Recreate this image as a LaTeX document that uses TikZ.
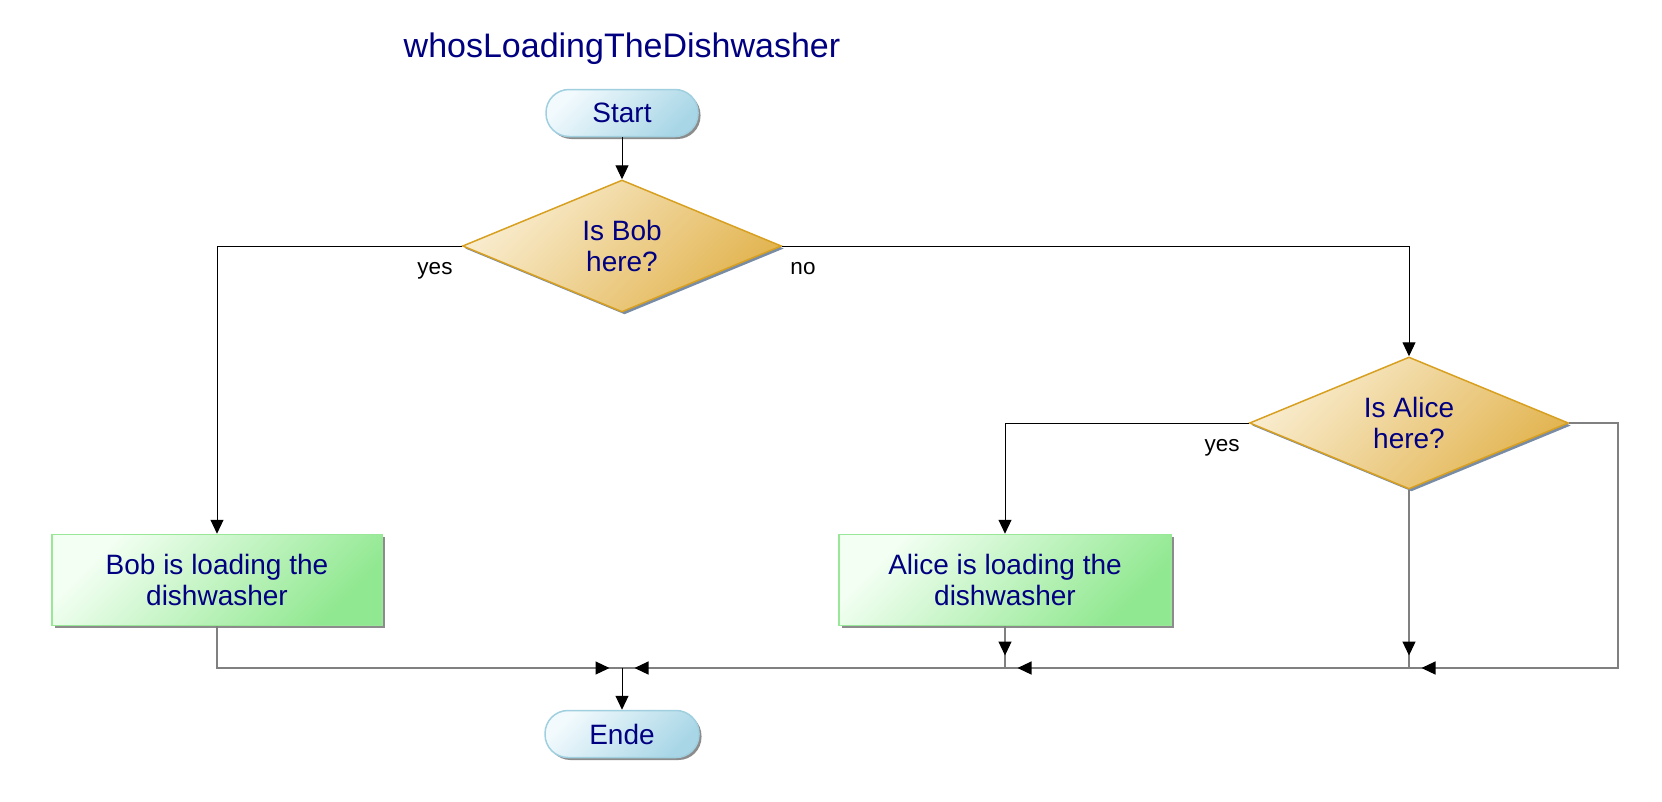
\documentclass[tikz,border=0pt]{standalone}
\usepackage{fontspec}
\setmainfont{Liberation Sans}
\usetikzlibrary{shapes.geometric,arrows.meta,shadows,decorations.markings}
\definecolor{navy}{RGB}{0,0,128}
\definecolor{blueA}{RGB}{242,250,253}
\definecolor{blueB}{RGB}{168,214,230}
\definecolor{blueE}{RGB}{160,208,224}
\definecolor{goldA}{RGB}{249,237,208}
\definecolor{goldB}{RGB}{226,180,80}
\definecolor{goldE}{RGB}{216,160,32}
\definecolor{goldS}{RGB}{120,140,165}
\definecolor{greenA}{RGB}{244,255,244}
\definecolor{greenB}{RGB}{144,232,144}
\definecolor{greenE}{RGB}{152,232,152}
\definecolor{shadowgray}{RGB}{140,140,140}
\definecolor{linegray}{RGB}{128,128,128}
\tikzset{
  txt/.style={text=navy, font=\fontsize{28}{31}\selectfont, align=center},
  terminal/.style={txt, rectangle, rounded corners=23pt, draw=blueE, line width=1.5pt,
    top color=blueA, bottom color=blueB, shading angle=45,
    minimum width=152pt, minimum height=47pt, inner sep=0pt,
    general shadow={fill=shadowgray, shadow xshift=2.5pt, shadow yshift=-2.5pt}},
  decision/.style={txt, diamond, draw=goldE, line width=1.5pt,
    top color=goldA, bottom color=goldB, shading angle=45,
    minimum width=319pt, minimum height=132pt, inner sep=0pt, aspect=2.42,
    general shadow={fill=goldS, shadow xshift=2.5pt, shadow yshift=-2.5pt}},
  action/.style={txt, rectangle, draw=greenE, line width=1.5pt,
    top color=greenA, bottom color=greenB, shading angle=45,
    minimum height=91pt, inner sep=0pt,
    general shadow={fill=shadowgray, shadow xshift=2.5pt, shadow yshift=-2.5pt}},
  lbl/.style={text=black, font=\fontsize{22.5}{25}\selectfont, anchor=base},
  tipA/.style={-{Triangle[length=14pt,width=13pt]}},
  flow/.style={draw=black, line width=1pt, tipA},
  merge/.style={draw=linegray, line width=1.2pt,
    postaction={decorate, decoration={markings,
      mark=at position -12.5pt with {\arrow{Triangle[length=14pt,width=13pt,black]}}}}},
}
\begin{document}
\begin{tikzpicture}[x=1pt, y=-1pt]
\useasboundingbox (0,0) rectangle (1662,801);
\fill[white] (0,0) rectangle (1662,801);

\node[text=navy, font=\fontsize{34}{38}\selectfont, anchor=base] (title) at (622,57) {whosLoadingTheDishwasher};

\node[terminal] (start) at (622,113) {Start};
\node[decision] (d1) at (622,246) {Is Bob\\here?};
\node[action, minimum width=330pt] (bob) at (217,580) {Bob is loading the\\dishwasher};
\node[decision] (d2) at (1409,423) {Is Alice\\here?};
\node[action, minimum width=332pt] (alice) at (1005,580) {Alice is loading the\\dishwasher};
\node[terminal, minimum width=154pt] (ende) at (622,734) {Ende};

\coordinate (cE) at (1618,423);
\coordinate (cE2) at (1618,668);
\coordinate (jB) at (622,668);
\coordinate (jA) at (1005,668);
\coordinate (jD) at (1409,668);

\draw[flow] (start) -- (d1);
\draw[flow] (d1.west) -| (bob.north);
\draw[flow] (d1.east) -| (d2.north);
\draw[flow] (d2.west) -| (alice.north);

\node[lbl] (yes1) at (435,274) {yes};
\node[lbl] (no1) at (803,274) {no};
\node[lbl] (yes2) at (1222,451) {yes};

\draw[merge] (bob.south) |- (jB);
\draw[merge] (jA) -- (jB);
\draw[merge] (alice.south) -- (jA);
\draw[merge] (jD) -- (jA);
\draw[merge] (d2.south) -- (jD);
\draw[merge] (d2.east) -- (cE) -- (cE2) -- (jD);
\draw[flow] (jB) -- (ende.north);
\end{tikzpicture}
\end{document}
